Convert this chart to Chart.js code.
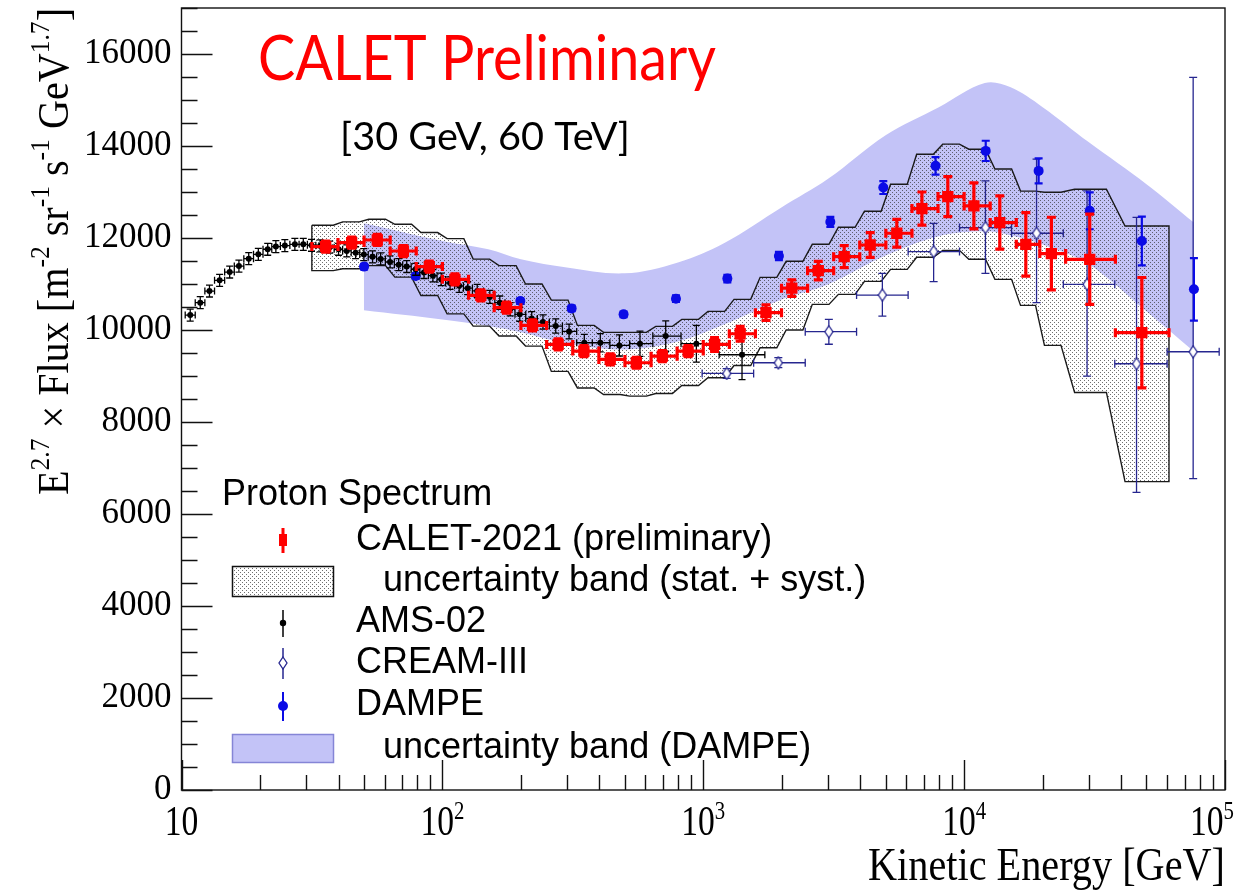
<!DOCTYPE html>
<html>
<head>
<meta charset="utf-8">
<title>Proton spectrum</title>
<script src="https://cdn.jsdelivr.net/npm/chart.js@4.4.1/dist/chart.umd.min.js"></script>
<style>
  html, body { margin: 0; padding: 0; background: #fff; }
  canvas { display: block; }
</style>
</head>
<body>
<canvas id="protonChart" width="1244" height="890"></canvas>
<script>
// values: kinetic energy in GeV, E^2.7 x flux

// AMS-02
const amsE = [10.8, 11.8, 12.8, 14.0, 15.3, 16.6, 18.1, 19.7, 21.4, 23.0,
  24.9, 27.2, 29.3, 31.5, 34, 37, 40, 43, 46.5, 50,
  54, 58, 63, 68, 73, 79, 85, 92, 99, 107,
  116, 125, 136, 152, 166, 182, 198, 220, 243, 272,
  306, 350, 403, 477, 572, 718, 941, 1408];
const amsFlux = [10324, 10594, 10847, 11080, 11260, 11390, 11550, 11645, 11755, 11813,
  11835, 11863, 11863, 11842, 11830, 11800, 11755, 11720, 11680, 11640,
  11590, 11545, 11480, 11420, 11380, 11320, 11250, 11180, 11100, 11020,
  10960, 10910, 10850, 10720, 10594, 10450, 10340, 10250, 10172, 10085,
  9969, 9723, 9723, 9665, 9702, 9868, 9702, 9462];
const amsErr = [130, 130, 130, 130, 130, 130, 130, 130, 130, 130,
  130, 130, 130, 130, 130, 130, 130, 130, 130, 130,
  130, 130, 130, 130, 130, 130, 130, 135, 135, 135,
  140, 140, 140, 140, 145, 145, 150, 150, 155, 155,
  160, 180, 200, 230, 275, 330, 400, 540];

// CALET-2021 points, bin edges and the stat+syst band
const calE = [35.7, 44.9, 56.3, 70.9, 89.1, 111.7, 140.4, 176.2, 221.6, 277.9,
  348.8, 440, 554, 697, 875, 1105, 1385, 1740, 2185, 2760,
  3470, 4365, 5520, 6890, 8660, 10900, 13700, 17240, 21600, 30300, 48000];
const calFlux = [11813, 11900, 11957, 11717, 11378, 11101, 10753, 10485, 10100, 9687,
  9541, 9360, 9288, 9432, 9541, 9687, 9919, 10376, 10910, 11290,
  11595, 11848, 12103, 12640, 12901, 12697, 12336, 11863, 11661, 11537, 9941];
const calErr = [120, 120, 120, 120, 120, 120, 120, 120, 120, 120,
  120, 120, 120, 120, 120, 150, 160, 170, 180, 200,
  240, 270, 300, 360, 435, 500, 580, 690, 790, 980, 1200];
const calEdges = [31.6, 39.8, 50.1, 63.1, 79.4, 100, 126, 158, 200, 251,
  316, 398, 501, 631, 794, 1000, 1259, 1585, 1995, 2512,
  3162, 3981, 5012, 6310, 7943, 10000, 12589, 15849, 19500, 24500, 38000, 61000];
const calBandUp = [12277, 12350, 12408, 12299, 12118, 11987, 11540, 11400, 11000, 10650,
  10100, 9948, 9948, 10079, 10231, 10405, 10666, 11145, 11493, 11863,
  12233, 12582, 13170, 13822, 14040, 13930, 13500, 13020, 12994, 13060, 12262];
const calBandLo = [11290, 11330, 11400, 11150, 10750, 10350, 10085, 9868, 9650, 9100,
  8740, 8598, 8562, 8620, 8794, 8962, 9229, 9614, 10000, 10557,
  10775, 11058, 11319, 11580, 11732, 11537, 11101, 10535, 9665, 8642, 6704];

// CREAM-III
const creamE = [1230, 1940, 3030, 4860, 7640, 12070, 18950, 29600, 45800, 75500];
const creamFlux = [9055, 9288, 9963, 10760, 11704, 12226, 12103, 10993, 9266, 9527];
const creamLo = [8950, 9180, 9690, 10300, 11050, 11230, 10594, 8996, 6470, 6770];
const creamHi = [9160, 9400, 10230, 11230, 12320, 13240, 13713, 13023, 12450, 15492];
const creamEdges = [990, 1560, 2460, 3870, 6100, 9600, 15200, 24000, 37800, 60000, 95000];

// DAMPE points and band
const dampeE = [50.1, 79, 199, 313, 495, 786, 1237, 1950, 3070, 4900, 7770, 12100, 19300, 30300, 48000, 76000];
const dampeFlux = [11378, 11173, 10630, 10470, 10340, 10681, 11117, 11609, 12350, 13097, 13568, 13894, 13459, 12590, 11935, 10884];
const dampeErr = [60, 60, 60, 60, 60, 70, 80, 90, 110, 140, 190, 220, 270, 400, 530, 680];
const dampeBandE = [50, 100, 150, 200, 300, 500, 800, 1200, 2000, 3000, 5000, 8000, 12000, 15000, 20000, 30000, 50000, 76000];
const dampeBandUp = [12320, 11935, 11755, 11537, 11360, 11232, 11470, 11885, 12670, 13280, 14235, 14845, 15370, 15280, 14845, 14085, 13170, 12336];
const dampeBandLo = [10430, 10230, 10085, 9950, 9708, 9578, 9750, 10120, 10665, 10990, 11620, 12040, 12146, 12060, 11860, 11430, 10405, 9530];

// axis ticks
const yTicks = [0, 2000, 4000, 6000, 8000, 10000, 12000, 14000, 16000];
const xDecades = [10, 100, 1000, 10000, 100000];

const RED = '#ff0000';
const BLUE = '#0b0be6';
const NAVY = '#26268f';
const BAND_BLUE = '#c3c3f7';
const SERIF = '"Liberation Serif", "DejaVu Serif", serif';
const SANS = '"Liberation Sans", Arial, sans-serif';

const canvas = document.getElementById('protonChart');
const ctx = canvas.getContext('2d');

// stipple fill for the CALET band
const dot = document.createElement('canvas');
dot.width = 4; dot.height = 4;
const dctx = dot.getContext('2d');
dctx.fillStyle = 'rgba(50,50,50,0.7)';
dctx.fillRect(0, 0, 1, 1);
dctx.fillRect(2, 2, 1, 1);
const stipple = ctx.createPattern(dot, 'repeat');

// open diamond for CREAM
const diamond = document.createElement('canvas');
diamond.width = 10; diamond.height = 14;
(function () {
  const c = diamond.getContext('2d');
  c.beginPath();
  c.moveTo(5, 1); c.lineTo(9, 7); c.lineTo(5, 13); c.lineTo(1, 7); c.closePath();
  c.fillStyle = '#fff'; c.fill();
  c.strokeStyle = NAVY; c.lineWidth = 1.3; c.stroke();
})();

// band edge: flat over each bin, slanted riser around the bin edges
function stepPoints(edges, vals) {
  const pts = [];
  const last = vals.length - 1;
  vals.forEach((v, i) => {
    const k = Math.pow(edges[i + 1] / edges[i], 0.18);
    pts.push({x: i === 0 ? edges[i] : edges[i] * k, y: v});
    pts.push({x: i === last ? edges[i + 1] : edges[i + 1] / k, y: v});
  });
  return pts;
}
const calUpPts = stepPoints(calEdges, calBandUp);
const calLoPts = stepPoints(calEdges, calBandLo);
const calOutline = calUpPts.concat(calLoPts.slice().reverse(), [calUpPts[0]]);

const calPts = calE.map((e, i) => ({
  x: e, y: calFlux[i], xMin: calEdges[i], xMax: calEdges[i + 1],
  yMin: calFlux[i] - calErr[i], yMax: calFlux[i] + calErr[i]
}));
const amsPts = amsE.map((e, i) => {
  const lo = i > 0 ? Math.sqrt(e * amsE[i - 1]) : e * e / Math.sqrt(e * amsE[i + 1]);
  const hi = i < amsE.length - 1 ? Math.sqrt(e * amsE[i + 1]) : e * e / lo;
  return {x: e, y: amsFlux[i], xMin: lo, xMax: hi, yMin: amsFlux[i] - amsErr[i], yMax: amsFlux[i] + amsErr[i]};
});
const creamPts = creamE.map((e, i) => ({
  x: e, y: creamFlux[i], xMin: creamEdges[i], xMax: creamEdges[i + 1],
  yMin: creamLo[i], yMax: creamHi[i]
}));
const dampePts = dampeE.map((e, i) => ({
  x: e, y: dampeFlux[i], yMin: dampeFlux[i] - dampeErr[i], yMax: dampeFlux[i] + dampeErr[i]
}));
const dampeUpPts = dampeBandE.map((e, i) => ({x: e, y: dampeBandUp[i]}));
const dampeLoPts = dampeBandE.map((e, i) => ({x: e, y: dampeBandLo[i]}));

// error bars drawn under each dataset's markers
const errorBars = {
  id: 'errorBars',
  beforeDatasetDraw(chart, args) {
    const ds = chart.data.datasets[args.index];
    const eb = ds.errorBars;
    if (!eb) return;
    const {ctx, chartArea: a, scales: {x, y}} = chart;
    ctx.save();
    ctx.beginPath();
    ctx.rect(a.left, a.top, a.right - a.left, a.bottom - a.top);
    ctx.clip();
    ctx.strokeStyle = eb.color;
    ctx.lineWidth = eb.width;
    ctx.beginPath();
    ds.data.forEach(p => {
      const px = x.getPixelForValue(p.x), py = y.getPixelForValue(p.y);
      const c = eb.cap;
      if (p.xMin != null) {
        const x0 = x.getPixelForValue(p.xMin), x1 = x.getPixelForValue(p.xMax);
        ctx.moveTo(x0, py); ctx.lineTo(x1, py);
        ctx.moveTo(x0, py - c); ctx.lineTo(x0, py + c);
        ctx.moveTo(x1, py - c); ctx.lineTo(x1, py + c);
      }
      const y0 = y.getPixelForValue(p.yMin), y1 = y.getPixelForValue(p.yMax);
      ctx.moveTo(px, y0); ctx.lineTo(px, y1);
      ctx.moveTo(px - c, y0); ctx.lineTo(px + c, y0);
      ctx.moveTo(px - c, y1); ctx.lineTo(px + c, y1);
    });
    ctx.stroke();
    ctx.restore();
  }
};

// text squeezed/stretched to a given width
function fitText(ctx, text, x, y, width, font, color) {
  ctx.save();
  ctx.font = font;
  ctx.fillStyle = color;
  const w = ctx.measureText(text).width;
  ctx.translate(x, y);
  ctx.scale(width / w, 1);
  ctx.fillText(text, 0, 0);
  ctx.restore();
}

// ROOT-like frame, inside ticks, log labels, titles, legend
const rootFrame = {
  id: 'rootFrame',
  afterDatasetsDraw(chart) {
    const {ctx, chartArea: a, scales: {x, y}} = chart;
    ctx.save();
    ctx.strokeStyle = '#111';
    ctx.lineWidth = 1.4;
    ctx.strokeRect(a.left, a.top, a.right - a.left, a.bottom - a.top);
    ctx.beginPath();
    for (let v = 0; v <= y.max; v += 500) {
      const py = Math.round(y.getPixelForValue(v)) + 0.5;
      ctx.moveTo(a.left, py);
      ctx.lineTo(a.left + (v % 2000 === 0 ? 31 : 16), py);
    }
    for (let d = 10; d < 100000; d *= 10) {
      for (let m = 1; m <= 10; m++) {
        const px = Math.round(x.getPixelForValue(d * m)) + 0.5;
        ctx.moveTo(px, a.bottom);
        ctx.lineTo(px, a.bottom - (m === 1 || m === 10 ? 30 : 15));
      }
    }
    ctx.stroke();
    ctx.restore();
  },
  afterDraw(chart) {
    const {ctx, scales: {x}} = chart;
    ctx.save();
    ctx.fillStyle = '#000';
    ctx.textBaseline = 'alphabetic';

    // x tick labels 10, 10^2 ... 10^5 (kept inside the canvas)
    xDecades.forEach(d => {
      const exp = Math.round(Math.log10(d));
      const px = x.getPixelForValue(d);
      const sup = exp === 1 ? '' : String(exp);
      ctx.font = '42px ' + SERIF;
      const wb = ctx.measureText('10').width * 0.8;
      ctx.font = '26px ' + SERIF;
      const ws = sup ? ctx.measureText(sup).width * 0.8 : 0;
      const x0 = Math.min(px - (wb + ws) / 2, 1234 - wb - ws);
      ctx.save();
      ctx.translate(x0, 835);
      ctx.scale(0.8, 1);
      ctx.font = '42px ' + SERIF;
      ctx.fillText('10', 0, 0);
      if (sup) {
        ctx.font = '26px ' + SERIF;
        ctx.fillText(sup, wb / 0.8, -16);
      }
      ctx.restore();
    });

    // x title
    fitText(ctx, 'Kinetic Energy [GeV]', 868, 880, 357, '46px ' + SERIF, '#000');

    // y title with superscripts, rotated
    const parts = [['E', 0], ['2.7', 1], [' \u00d7 Flux [m', 0], ['-2', 1], [' sr', 0], ['-1', 1],
      [' s', 0], ['-1', 1], [' GeV', 0], ['1.7', 1], [']', 0]];
    const fMain = '44px ' + SERIF, fSup = '28px ' + SERIF;
    let total = 0;
    parts.forEach(p => { ctx.font = p[1] ? fSup : fMain; total += ctx.measureText(p[0]).width; });
    ctx.save();
    ctx.translate(68, 495);
    ctx.rotate(-Math.PI / 2);
    ctx.scale(487 / total, 1);
    let cx = 0;
    parts.forEach(p => {
      ctx.font = p[1] ? fSup : fMain;
      ctx.fillText(p[0], cx, p[1] ? -19 : 0);
      cx += ctx.measureText(p[0]).width;
    });
    ctx.restore();

    // annotations
    fitText(ctx, 'CALET Preliminary', 258, 80, 458, '62px Lato, "Open Sans", sans-serif', RED);
    fitText(ctx, '[30 GeV, 60 TeV]', 340, 150, 290, '39px Lato, "Open Sans", sans-serif', '#000');

    // legend
    ctx.font = '36px ' + SANS;
    ctx.textBaseline = 'middle';
    ctx.fillStyle = '#000';
    ctx.fillText('Proton Spectrum', 222, 495);
    ctx.fillText(chart.data.datasets[0].label, 356, 540);
    ctx.fillText('uncertainty band (stat. + syst.)', 383, 581);
    ctx.fillText(chart.data.datasets[1].label, 356, 622);
    ctx.fillText(chart.data.datasets[3].label, 356, 663);
    ctx.fillText(chart.data.datasets[2].label, 356, 705);
    ctx.fillText('uncertainty band (DAMPE)', 383, 748);

    // legend symbols
    ctx.lineWidth = 3;
    ctx.strokeStyle = RED;
    ctx.beginPath(); ctx.moveTo(283, 528); ctx.lineTo(283, 553); ctx.stroke();
    ctx.fillStyle = RED;
    ctx.fillRect(279, 534, 8, 12);

    ctx.fillStyle = '#fff';
    ctx.fillRect(232, 566, 101, 30);
    ctx.fillStyle = stipple;
    ctx.fillRect(232, 566, 101, 30);
    ctx.lineWidth = 1.5;
    ctx.strokeStyle = '#111';
    ctx.strokeRect(232.5, 566.5, 101, 30);

    ctx.strokeStyle = '#000';
    ctx.lineWidth = 1.5;
    ctx.beginPath(); ctx.moveTo(283, 610); ctx.lineTo(283, 637); ctx.stroke();
    ctx.fillStyle = '#000';
    ctx.beginPath(); ctx.arc(283, 623, 3.2, 0, Math.PI * 2); ctx.fill();

    ctx.strokeStyle = NAVY;
    ctx.beginPath(); ctx.moveTo(283, 648); ctx.lineTo(283, 679); ctx.stroke();
    ctx.drawImage(diamond, 278, 656);

    ctx.strokeStyle = BLUE;
    ctx.lineWidth = 2;
    ctx.beginPath(); ctx.moveTo(283, 692); ctx.lineTo(283, 721); ctx.stroke();
    ctx.fillStyle = BLUE;
    ctx.beginPath(); ctx.arc(283, 706, 5, 0, Math.PI * 2); ctx.fill();

    ctx.fillStyle = BAND_BLUE;
    ctx.fillRect(232, 734, 101, 28);
    ctx.strokeStyle = '#8585d6';
    ctx.lineWidth = 1.5;
    ctx.strokeRect(232.5, 734.5, 101, 28);
    ctx.restore();
  }
};

const noLine = 'rgba(0,0,0,0)';

new Chart(ctx, {
  type: 'scatter',
  data: {
    datasets: [
      {
        label: 'CALET-2021 (preliminary)', data: calPts, order: 0,
        pointStyle: 'rect', pointRadius: 8, backgroundColor: RED, borderColor: RED, borderWidth: 0,
        errorBars: {color: RED, width: 3.2, cap: 4.5}
      },
      {
        label: 'AMS-02', data: amsPts, order: 1,
        pointRadius: 3, backgroundColor: '#000', borderColor: '#000', borderWidth: 0,
        errorBars: {color: '#000', width: 1.3, cap: 3.5}
      },
      {
        label: 'DAMPE', data: dampePts, order: 2,
        pointRadius: 5, backgroundColor: BLUE, borderColor: BLUE, borderWidth: 0,
        errorBars: {color: BLUE, width: 2.2, cap: 4}
      },
      {
        label: 'CREAM-III', data: creamPts, order: 3,
        pointStyle: diamond, pointRadius: 5,
        errorBars: {color: NAVY, width: 1.3, cap: 4}
      },
      {
        label: 'CALET band outline', data: calOutline, order: 4, showLine: true,
        borderColor: '#1a1a1a', borderWidth: 1.4, pointRadius: 0, fill: false
      },
      {
        label: 'CALET band', data: calUpPts, order: 5, showLine: true,
        borderColor: noLine, borderWidth: 0, pointRadius: 0, fill: '+1', backgroundColor: stipple
      },
      {
        label: 'CALET band low', data: calLoPts, order: 6, showLine: true,
        borderColor: noLine, borderWidth: 0, pointRadius: 0, fill: false
      },
      {
        label: 'DAMPE band', data: dampeUpPts, order: 7, showLine: true, tension: 0.35,
        borderColor: noLine, borderWidth: 0, pointRadius: 0, fill: '+1', backgroundColor: BAND_BLUE
      },
      {
        label: 'DAMPE band low', data: dampeLoPts, order: 8, showLine: true, tension: 0.35,
        borderColor: noLine, borderWidth: 0, pointRadius: 0, fill: false
      }
    ]
  },
  options: {
    responsive: false,
    animation: false,
    events: [],
    layout: {padding: {left: 0, right: 19, top: 8, bottom: 0}},
    plugins: {
      legend: {display: false},
      tooltip: {enabled: false}
    },
    scales: {
      x: {
        type: 'logarithmic', min: 10, max: 100000,
        grid: {display: false, drawTicks: false},
        border: {display: false},
        ticks: {display: false},
        afterFit(s) { s.height = 100; s.paddingLeft = 0; s.paddingRight = 0; }
      },
      y: {
        type: 'linear', min: 0, max: 17000,
        grid: {display: false, drawTicks: false},
        border: {display: false},
        afterBuildTicks(s) { s.ticks = yTicks.map(v => ({value: v})); },
        ticks: {
          padding: 10, color: '#000',
          font: {family: SERIF, size: 35},
          callback: v => String(v)
        },
        afterFit(s) { s.width = 181.5; s.paddingTop = 0; s.paddingBottom = 0; }
      }
    }
  },
  plugins: [errorBars, rootFrame]
});
</script>
</body>
</html>
